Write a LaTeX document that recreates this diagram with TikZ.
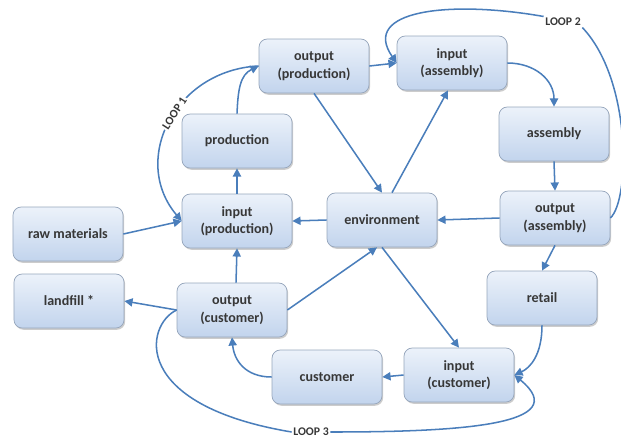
\documentclass[tikz,border=0pt]{standalone}
\usepackage{fontspec}
\setmainfont{Carlito}
\usetikzlibrary{arrows.meta,shadows,calc}
\definecolor{lineblue}{RGB}{74,126,187}
\definecolor{boxtop}{RGB}{236,242,250}
\definecolor{boxbot}{RGB}{194,212,237}
\definecolor{boxborder}{RGB}{150,166,188}
\definecolor{textgray}{RGB}{55,55,55}
\begin{document}
\begin{tikzpicture}[x=0.03cm,y=-0.03cm,
  box/.style={rounded corners=7pt, draw=boxborder, line width=0.6pt,
    top color=boxtop, bottom color=boxbot,
    minimum width=3.3cm, minimum height=1.62cm, align=center,
    font=\fontsize{12}{15}\selectfont\bfseries, text=textgray,
    drop shadow={shadow xshift=1pt,shadow yshift=-1.5pt,opacity=0.4}},
  flow/.style={draw=lineblue, line width=1.3pt, -{Triangle[length=7pt,width=7pt]}},
  loopline/.style={draw=lineblue, line width=1.3pt},
  looplabel/.style={font=\fontsize{10}{11}\selectfont\bfseries, text=textgray, inner sep=1.2pt}
]
\useasboundingbox (0,0) rectangle (621,439);

\node[box] (raw) at (68,234) {raw materials};
\node[box] (inprod) at (237,221) {input\\(production)};
\node[box] (prod) at (237,141) {production};
\node[box] (outprod) at (314,66) {output\\(production)};
\node[box] (inasm) at (452,63) {input\\(assembly)};
\node[box] (asm) at (554,134) {assembly};
\node[box] (outasm) at (555,218) {output\\(assembly)};
\node[box] (env) at (382,220) {environment};
\node[box] (landfill) at (69,301) {landfill *};
\node[box] (outcust) at (232,310) {output\\(customer)};
\node[box] (retail) at (542,298) {retail};
\node[box] (cust) at (327,377) {customer};
\node[box] (incust) at (459,375) {input\\(customer)};

\node[looplabel] (L2) at (563,22) {LOOP 2};
\node[looplabel] (L3) at (311,432) {LOOP 3};

% main flows
\draw[flow] (raw.east) -- (inprod.west);
\draw[flow] (inprod.north) -- (prod.south);
\draw[flow] (prod.north) .. controls (238,90) and (240,75) .. (outprod.west);
\draw[flow] (outprod.east) -- (inasm.west);
\draw[flow] (outprod.south) -- (env.north);
\draw[flow] ($(env.north)+(10,0)$) -- ($(inasm.south)+(-4,0)$);
\draw[flow] (inasm.east) .. controls (535,63) and (554,80) .. (asm.north);
\draw[flow] (asm.south) -- (outasm.north);
\draw[flow] (outasm.west) -- (env.east);
\draw[flow] (outasm.south) -- (retail.north);
\draw[flow] (env.west) -- (inprod.east);
\draw[flow] (env.south) -- (incust.north);
\draw[flow] (outcust.east) -- ($(env.south)+(-5,0)$);
\draw[flow] ($(outcust.north)+(4,0)$) -- (inprod.south);
\draw[flow] (outcust.west) -- (landfill.east);
\draw[flow] (retail.south) .. controls (542,355) and (530,368) .. (incust.east);
\draw[flow] (incust.west) -- (cust.east);
\draw[flow] (cust.west) .. controls (245,377) and (234,360) .. (outcust.south);

% loops
\draw[flow] (outprod.west) .. controls (175,70) and (130,160) ..
  node[pos=0.45, looplabel, fill=white, rotate=57] (L1) {LOOP 1} (inprod.west);
\draw[loopline] (outasm.east) .. controls (630,200) and (632,80) .. (L2.south east);
\draw[flow] (L2.north west) .. controls (450,0) and (360,10) .. (inasm.west);
\draw[loopline] (outcust.west) .. controls (145,325) and (130,405) .. (L3.west);
\draw[flow] (L3.east) .. controls (460,432) and (575,425) .. (incust.east);
\end{tikzpicture}
\end{document}
